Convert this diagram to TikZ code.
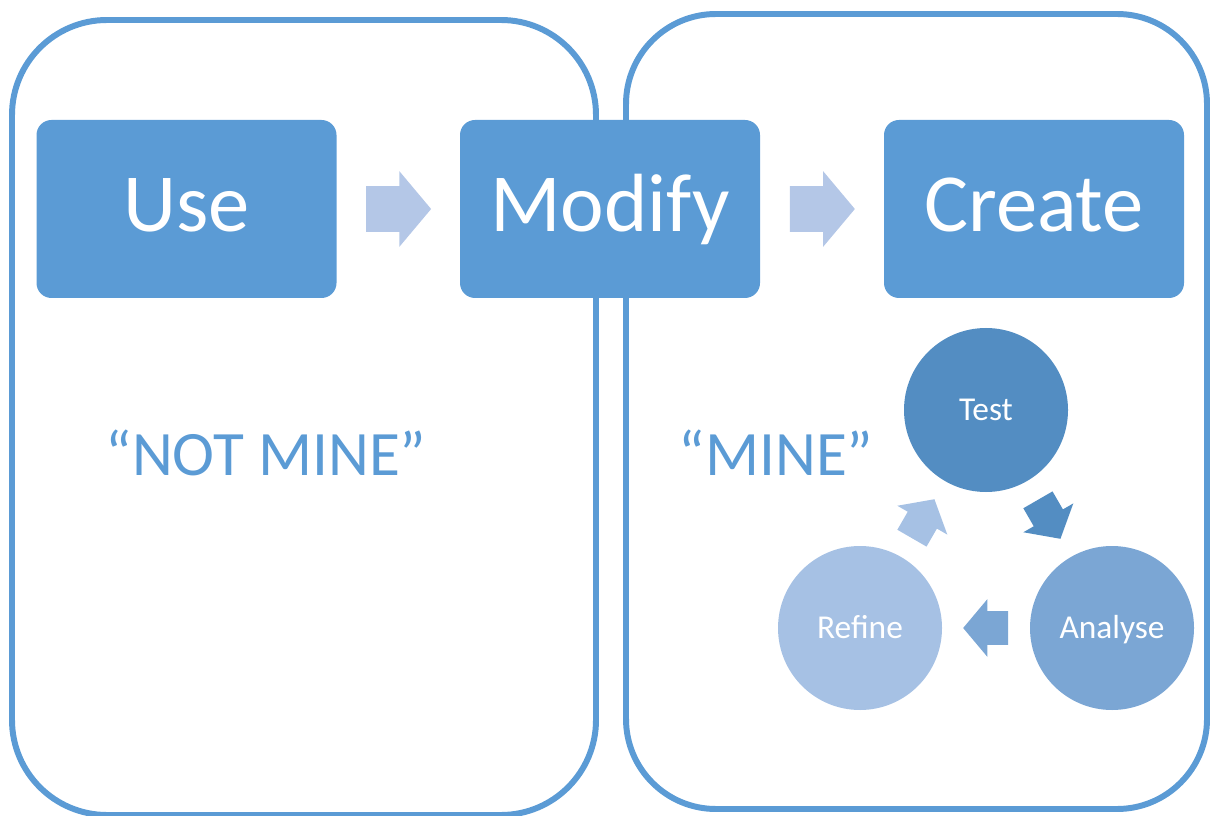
\documentclass[tikz,border=0pt]{standalone}
\usepackage{fontspec}
\setmainfont{Carlito}
\usepackage{xcolor}
\definecolor{mblue}{HTML}{5B9BD5}
\definecolor{mpale}{HTML}{B4C7E7}
\definecolor{mtest}{HTML}{538DC2}
\definecolor{manalyse}{HTML}{7BA6D4}
\definecolor{mrefine}{HTML}{A6C1E4}
\usepackage{tikz}
\usetikzlibrary{calc,shapes.arrows}

\tikzset{
    stage/.style={fill=mblue, rounded corners=0.3cm, minimum width=6cm, minimum height=3.56cm,
        text=white, text height=1.08cm, text depth=0.16cm, font=\fontsize{47}{56}\selectfont},
    cyc/.style={circle, minimum size=3.28cm, inner sep=0pt, text=white,
        text height=0.43cm, text depth=0cm, font=\fontsize{19}{23}\selectfont},
    bigarrow/.style={single arrow, anchor=tail, fill=mpale, inner xsep=0pt, inner ysep=0.45cm,
        minimum height=1.3cm, single arrow head extend=0.3cm, single arrow tip angle=100},
    smallarrow/.style={single arrow, anchor=tail, inner xsep=0pt, inner ysep=0.33cm,
        minimum height=0.9cm, single arrow head extend=0.24cm, single arrow tip angle=100},
    frame/.style={draw=mblue, line width=3.4pt}
}

\begin{document}
\begin{tikzpicture}
            \useasboundingbox (0, 0) rectangle (24.2, -16.32);
            \draw[frame, rounded corners=1.9cm] (0.24, -0.40) rectangle (11.92, -16.30);
            \draw[frame, rounded corners=1.8cm] (12.52, -0.28) rectangle (24.14, -16.18);
            \node[stage] (use) at (3.73, -4.18) {Use};
            \node[stage] (modify) at (12.2, -4.18) {Modify};
            \node[stage] (create) at (20.68, -4.18) {Create};
            % block arrows sit with their tail half a length before the midpoint
            \node[bigarrow] (usemod) at ($($(use.east)!0.5!(modify.west)$)!0.65cm!(use.east)$) {};
            \node[bigarrow] (modcre) at ($($(modify.east)!0.5!(create.west)$)!0.65cm!(modify.east)$) {};
            \node[text=mblue, font=\fontsize{36}{43}\selectfont] (notmine) at (5.32, -9.06) {“NOT MINE”};
            \node[text=mblue, font=\fontsize{36}{43}\selectfont] (mine) at (15.52, -9.06) {“MINE”};
            \node[cyc, fill=mtest] (test) at (19.72, -8.2) {Test};
            \node[cyc, fill=manalyse] (analyse) at (22.24, -12.56) {Analyse};
            \node[cyc, fill=mrefine] (refine) at (17.2, -12.56) {Refine};
            \node[smallarrow, fill=mtest, rotate=-60] (testana) at ($($(test)!0.5!(analyse)$)!0.45cm!(test)$) {};
            \node[smallarrow, fill=manalyse, rotate=180] (anaref) at ($($(analyse)!0.5!(refine)$)!0.45cm!(analyse)$) {};
            \node[smallarrow, fill=mrefine, rotate=60] (reftest) at ($($(refine)!0.5!(test)$)!0.45cm!(refine)$) {};
        \end{tikzpicture}
\end{document}
